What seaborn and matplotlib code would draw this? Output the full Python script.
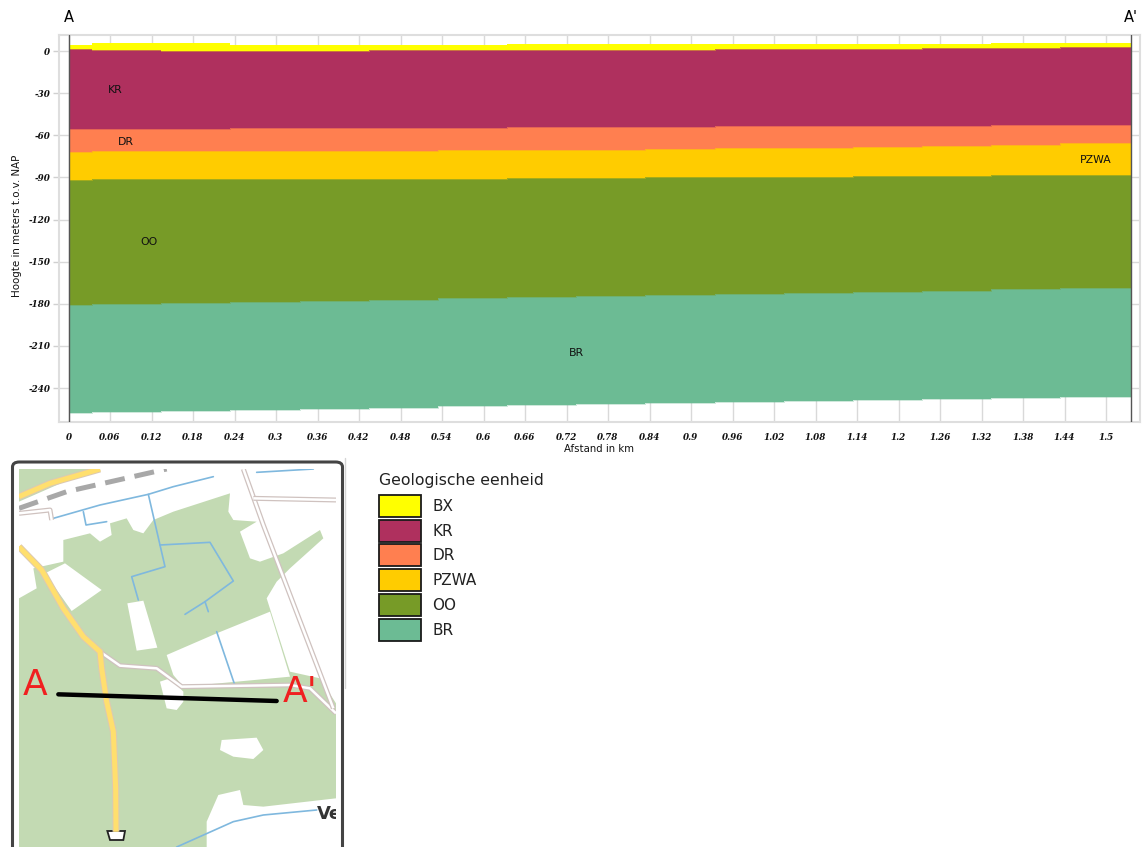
import numpy as np
import pandas as pd
import matplotlib
matplotlib.use("Agg")
import matplotlib.pyplot as plt
from matplotlib.patches import Patch, Polygon, FancyBboxPatch
from matplotlib.lines import Line2D
import seaborn as sns

# ---- data -------------------------------------------------------------
units = ["BX", "KR", "DR", "PZWA", "OO", "BR"]
colors = ["#FFFF00", "#AF305E", "#FF7F50", "#FFCC00", "#779B27", "#6CBB94"]
step_edges_km = [0, .034, .134, .234, .334, .434, .534, .634, .734, .834,
                 .934, 1.034, 1.134, 1.234, 1.334, 1.434, 1.536]
bx_top = [4.1, 5.5, 5.5, 4.5, 4.5, 4.6, 4.6, 4.8, 4.8, 5.0, 5.0, 5.1, 5.2, 5.3, 5.4, 5.5]
kr_top = [1.2, 0.9, 0.2, 0.2, 0.2, 0.4, 0.6, 0.7, 0.9, 1.0, 1.2, 1.4, 1.6, 2.1, 2.4, 2.6]
dr_top = [-55.6, -55.6, -55.4, -55.0, -54.8, -54.7, -54.5, -54.3, -54.1, -54.0,
          -53.6, -53.4, -53.3, -53.1, -52.7, -52.4]
pzwa_top = [-71.7, -71.5, -71.4, -71.2, -71.1, -71.0, -70.7, -70.3, -70.2, -70.0,
            -69.3, -69.1, -68.6, -67.7, -66.7, -65.5]
oo_top = [-91.9, -91.5, -91.4, -91.2, -91.2, -91.0, -90.8, -90.4, -90.2, -89.9,
          -89.7, -89.5, -89.2, -89.0, -88.5, -88.3]
br_top = [-180.9, -180.4, -179.5, -178.6, -177.8, -177.1, -175.6, -175.0, -174.3, -173.6,
          -172.9, -172.2, -171.3, -170.6, -169.7, -168.8]
br_base = [-257.6, -256.9, -256.2, -255.5, -254.8, -254.1, -253.1, -252.4, -251.6, -250.9,
           -250.1, -249.4, -248.7, -247.9, -247.2, -246.2]
layer_bounds = [bx_top, kr_top, dr_top, pzwa_top, oo_top, br_top, br_base]

x_ticks = [round(0.06 * i, 2) for i in range(26)]
x_tick_labels = [f"{v:g}" for v in x_ticks]
y_ticks = [0, -30, -60, -90, -120, -150, -180, -210, -240]
unit_labels = ["KR", "DR", "PZWA", "OO", "BR"]
unit_label_x = [0.068, 0.083, 1.485, 0.116, 0.734]
unit_label_y = [-27.8, -64.8, -77.6, -136.0, -215.0]

# ---- figure -----------------------------------------------------------
W, H = 1143, 847
sns.set_theme(style="white")
plt.rcParams["font.family"] = ["DejaVu Sans"]
fig = plt.figure(figsize=(W / 100, H / 100), dpi=100, facecolor="white")


def axes_px(x0, y0, x1, y1):
    return fig.add_axes([x0 / W, 1 - y1 / H, (x1 - x0) / W, (y1 - y0) / H])


ax = axes_px(58.5, 35, 1139.5, 422)
ax.set_xlim(-0.01446, 1.5484)
ax.set_ylim(-264.2, 11.4)

edges = np.array(step_edges_km)
for i, (unit, col) in enumerate(zip(units, colors)):
    top = np.r_[layer_bounds[i], layer_bounds[i][-1]]
    bot = np.r_[layer_bounds[i + 1], layer_bounds[i + 1][-1]]
    ax.fill_between(edges, bot, top, step="post", color=col, lw=0, zorder=2)
    df = pd.DataFrame({"x": edges, "y": bot})
    sns.lineplot(data=df, x="x", y="y", ax=ax, color=col, lw=0.4, alpha=0.6,
                 drawstyle="steps-post", estimator=None, zorder=2.5, legend=False)

ax.set_xticks(x_ticks)
ax.set_xticklabels(x_tick_labels)
ax.set_yticks(y_ticks)
ax.set_yticklabels([str(v) for v in y_ticks])
ax.grid(True, color="#D9D9D9", lw=1.0, zorder=1)
ax.set_axisbelow(True)
ax.tick_params(axis="y", length=4, width=1, color="#D0D0D0", pad=2, left=True)
ax.tick_params(axis="x", length=0, pad=8)
for lab in ax.get_xticklabels() + ax.get_yticklabels():
    lab.set_family("DejaVu Serif")
    lab.set_fontweight("bold")
    lab.set_fontstyle("italic")
    lab.set_fontsize(6.3)
    lab.set_color("#111111")
for s in ax.spines.values():
    s.set_color("#DEDEDE")
    s.set_linewidth(1.5)
ax.axvline(0, color="#555555", lw=1.0, zorder=4)
ax.axvline(1.536, color="#555555", lw=1.0, zorder=4)
ax.set_xlabel("")
ax.set_ylabel("")

for t, x, y in zip(unit_labels, unit_label_x, unit_label_y):
    ax.text(x, y, t, fontsize=7.8, ha="center", va="center", color="#111111", zorder=5)


def ftext(px, py, s, **kw):
    return fig.text(px / W, 1 - py / H, s, **kw)


ftext(68.5, 18, "A", fontsize=10.5, ha="center", va="center", color="black")
ftext(1131, 18, "A'", fontsize=10.5, ha="center", va="center", color="black")
ftext(17, 226, "Hoogte in meters t.o.v. NAP", fontsize=7.4, rotation=90,
      ha="center", va="center", color="#111111")
ftext(599, 449, "Afstand in km", fontsize=7.3, ha="center", va="center", color="#111111")

# ---- legend -----------------------------------------------------------
handles = [Patch(facecolor=c, edgecolor="#1a1a1a", lw=1.3, label=u) for u, c in zip(units, colors)]
leg = fig.legend(handles=handles, title="Geologische eenheid", loc="upper left",
                 bbox_to_anchor=(379 / W, 1 - 473 / H), frameon=False, fontsize=11,
                 title_fontsize=11.3, handlelength=2.75, handleheight=1.84,
                 labelspacing=0.18, handletextpad=0.72, borderpad=0, borderaxespad=0)
leg._legend_box.align = "left"
leg._legend_box.sep = 5
for t in leg.get_texts():
    t.set_color("#222222")
leg.get_title().set_color("#222222")

# ---- location map -----------------------------------------------------
frame = FancyBboxPatch((12.5 / W, -0.02), 330 / W, (1 - 462 / H) + 0.02,
                       boxstyle="round,pad=0,rounding_size=0.006", transform=fig.transFigure,
                       facecolor="white", edgecolor="#444444", lw=2.2, zorder=-1)
fig.add_artist(frame)
fig.add_artist(Line2D([345 / W, 345 / W], [1 - 458 / H, 1 - 688 / H], color="#D5D5D5", lw=1))

m = axes_px(19, 469, 336, 847)
m.set_xlim(57, 1008)
m.set_ylim(1176, 42)
m.axis("off")
m.add_patch(Polygon([(57, 42), (1008, 42), (1008, 1176), (57, 1176)], fc="#C3DAB3", ec="none"))

white_areas = [
    [(57, 430), (110, 400), (100, 340), (190, 320), (190, 255), (270, 235), (300, 260),
     (335, 240), (330, 205), (380, 190), (400, 225), (430, 235), (460, 195), (520, 170),
     (690, 115), (685, 170), (700, 195), (770, 200), (720, 230), (750, 310), (780, 320),
     (850, 295), (960, 225), (970, 250), (870, 340), (830, 380), (800, 430), (870, 650),
     (960, 670), (1008, 745), (1008, 42), (280, 42), (57, 140)],
    [(135, 355), (195, 325), (305, 405), (215, 468)],
    [(382, 445), (430, 437), (472, 578), (410, 587)],
    [(500, 600), (650, 535), (810, 470), (870, 665), (550, 695), (520, 660)],
    [(480, 680), (510, 670), (550, 710), (550, 740), (530, 765), (500, 760), (490, 720)],
    [(665, 855), (770, 848), (790, 885), (760, 912), (700, 905), (660, 885)],
    [(620, 1100), (655, 1020), (720, 1005), (730, 1050), (790, 1055), (1008, 1030),
     (1008, 1176), (620, 1176)],
]
for poly in white_areas:
    m.add_patch(Polygon(poly, fc="white", ec="none"))

water_lines = [
    [(160, 190), (300, 150), (445, 118), (520, 95), (640, 65)],
    [(250, 170), (258, 210), (320, 200)],
    [(445, 118), (480, 270), (495, 335), (395, 365), (415, 435)],
    [(480, 270), (630, 262), (700, 378), (615, 440), (555, 478)],
    [(615, 440), (625, 470)],
    [(650, 530), (705, 692)],
    [(770, 52), (940, 42)],
    [(530, 1176), (700, 1100), (790, 1080), (950, 1065)],
]
for line in water_lines:
    xs, ys = zip(*line)
    m.plot(xs, ys, color="#7FB8DE", lw=1.2)

white_roads = [
    [(300, 590), (360, 632), (470, 640), (545, 695), (870, 690), (930, 700), (1008, 775)],
    [(730, 42), (790, 210), (1000, 760)],
    [(760, 130), (1008, 135)],
    [(57, 175), (150, 165), (155, 195)],
]
for line in white_roads:
    xs, ys = zip(*line)
    m.plot(xs, ys, color="#CFC2BF", lw=3.6, solid_capstyle="butt")
    m.plot(xs, ys, color="white", lw=1.8, solid_capstyle="butt")

yellow_roads = [
    [(57, 275), (125, 345), (190, 460), (250, 545), (300, 590), (305, 640), (320, 740),
     (340, 830), (347, 1000), (348, 1130)],
    [(57, 125), (150, 85), (300, 42)],
]
for line in yellow_roads:
    xs, ys = zip(*line)
    m.plot(xs, ys, color="#DCC9B2", lw=5.0, solid_capstyle="butt")
    m.plot(xs, ys, color="#FFDF6E", lw=3.6, solid_capstyle="butt")

m.plot([57, 200, 500], [160, 110, 42], color="#A8A8A8", lw=3.6, dashes=(4, 2))

m.add_patch(Polygon([(322, 1128), (375, 1128), (370, 1155), (330, 1155)], fc="white", ec="#222222", lw=1.3))
m.plot([175, 830], [718, 738], color="black", lw=3.2, solid_capstyle="round")
m.text(105, 720, "A", color="#F02020", fontsize=26, ha="center", va="baseline")
m.text(900, 740, "A'", color="#F02020", fontsize=26, ha="center", va="baseline")
m.text(950, 1092, "Ve", color="#333333", fontsize=13, fontweight="bold", ha="left", va="baseline", clip_on=True)

fig.savefig("out.png", dpi=100, facecolor="white")
